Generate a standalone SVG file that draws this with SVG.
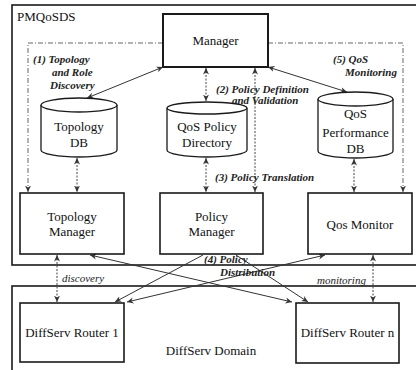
<svg xmlns="http://www.w3.org/2000/svg" width="416" height="370" viewBox="0 0 416 370">
<defs>
<style>
.box{fill:#fff;stroke:#1a1a1a;stroke-width:1.6}
.frame{fill:none;stroke:#1a1a1a;stroke-width:1.6}
.cyl{fill:#fff;stroke:#1a1a1a;stroke-width:1.3}
.t{font-family:"Liberation Serif","Times New Roman",serif;font-size:13px;fill:#111;text-anchor:middle}
.lab{font-family:"Liberation Serif","Times New Roman",serif;font-size:11px;font-style:italic;font-weight:bold;fill:#222}
.lab2{font-family:"Liberation Serif","Times New Roman",serif;font-size:11px;font-style:italic;fill:#222}
.c{fill:none;stroke:#333;stroke-width:1}
.dot{fill:none;stroke:#444;stroke-width:1;stroke-dasharray:2,1.5}
.dd{fill:none;stroke:#666;stroke-width:1;stroke-dasharray:5,2,1,2}
</style>
<marker id="ah" viewBox="0 0 7 7" refX="6.5" refY="3.5" markerWidth="7" markerHeight="7" markerUnits="userSpaceOnUse" orient="auto-start-reverse">
<path d="M0,0.5 L6.5,3.5 L0,6.5 L2,3.5 z" fill="#333"/>
</marker>
</defs>
<rect width="416" height="370" fill="#fff"/>

<g id="pmqosds">
<rect class="frame" x="12" y="5" width="412" height="260"/>
<text class="t" x="17" y="21" style="text-anchor:start">PMQoSDS</text>
</g>
<g id="diffserv-domain">
<rect class="frame" x="12" y="286" width="412" height="100"/>
<text class="t" x="211" y="355">DiffServ Domain</text>
</g>

<g id="connectors">
<path class="dd" d="M163,43 H28 V192" marker-end="url(#ah)"/>
<path class="dd" d="M268,43 H403 V192" marker-end="url(#ah)"/>
<path class="c" d="M87,98 L163,67" marker-start="url(#ah)" marker-end="url(#ah)"/>
<path class="dot" d="M206,68 V101" marker-start="url(#ah)" marker-end="url(#ah)"/>
<path class="dot" d="M255,68 V192" marker-start="url(#ah)" marker-end="url(#ah)"/>
<path class="c" d="M268,67 L347,92" marker-start="url(#ah)" marker-end="url(#ah)"/>
<path class="dot" d="M77,158 V192" marker-start="url(#ah)" marker-end="url(#ah)"/>
<path class="dot" d="M206,158 V192" marker-start="url(#ah)" marker-end="url(#ah)"/>
<path class="dot" d="M354,159 V192" marker-start="url(#ah)" marker-end="url(#ah)"/>
<path class="dot" d="M57,255 V302" marker-start="url(#ah)" marker-end="url(#ah)"/>
<path class="dot" d="M373,255 V302" marker-start="url(#ah)" marker-end="url(#ah)"/>
<path class="c" d="M90,255 L292,302" marker-start="url(#ah)" marker-end="url(#ah)"/>
<path class="c" d="M203,255 L115,302" marker-end="url(#ah)"/>
<path class="c" d="M236,255 L308,302" marker-end="url(#ah)"/>
<path class="c" d="M325,255 L127,302" marker-start="url(#ah)" marker-end="url(#ah)"/>
<text class="lab" x="33" y="63">(1) Topology</text>
<text class="lab" x="52" y="76">and Role</text>
<text class="lab" x="50" y="89">Discovery</text>
<text class="lab" x="216" y="93">(2) Policy Definition</text>
<text class="lab" x="232" y="104">and Validation</text>
<text class="lab" x="215" y="181">(3) Policy Translation</text>
<text class="lab" x="333" y="63">(5) QoS</text>
<text class="lab" x="345" y="76">Monitoring</text>
<text class="lab" x="204" y="263">(4) Policy</text>
<text class="lab" x="220" y="276">Distribution</text>
<text class="lab2" x="62" y="282">discovery</text>
<text class="lab2" x="317" y="284">monitoring</text>
</g>

<g id="manager">
<rect class="box" x="163" y="14" width="105" height="53" style="stroke-width:2"/>
<text class="t" x="215.5" y="45">Manager</text>
</g>

<g id="topology-db">
<path class="cyl" d="M41,105 V150 A38,7 0 0 0 117,150 V105"/>
<ellipse class="cyl" cx="79" cy="105" rx="38" ry="7"/>
<text class="t" x="79" y="131">Topology</text>
<text class="t" x="79" y="147">DB</text>
</g>

<g id="qos-policy-directory">
<path class="cyl" d="M167,108 V150 A40,7 0 0 0 247,150 V108"/>
<ellipse class="cyl" cx="207" cy="108" rx="40" ry="6"/>
<text class="t" x="207" y="131">QoS Policy</text>
<text class="t" x="207" y="147">Directory</text>
</g>

<g id="qos-performance-db">
<path class="cyl" d="M318,99 V151 A37.5,7 0 0 0 393,151 V99"/>
<ellipse class="cyl" cx="355.5" cy="99" rx="37.5" ry="7"/>
<text class="t" x="355.5" y="118">QoS</text>
<text class="t" x="355.5" y="137">Performance</text>
<text class="t" x="355.5" y="153">DB</text>
</g>

<g id="topology-manager">
<rect class="box" x="20" y="193" width="104" height="61"/>
<text class="t" x="72" y="221">Topology</text>
<text class="t" x="72" y="236">Manager</text>
</g>

<g id="policy-manager">
<rect class="box" x="160" y="193" width="103" height="61"/>
<text class="t" x="211.5" y="221">Policy</text>
<text class="t" x="211.5" y="236">Manager</text>
</g>

<g id="qos-monitor">
<rect class="box" x="308" y="193" width="104" height="61"/>
<text class="t" x="360" y="229">Qos Monitor</text>
</g>

<g id="diffserv-router-1">
<rect class="box" x="20" y="303" width="104" height="59"/>
<text class="t" x="72" y="337">DiffServ Router 1</text>
</g>

<g id="diffserv-router-n">
<rect class="box" x="296" y="303" width="103" height="60"/>
<text class="t" x="347.5" y="337">DiffServ Router n</text>
</g>
</svg>
